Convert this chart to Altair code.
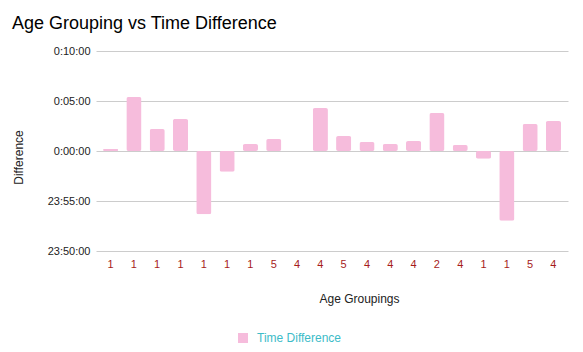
import altair as alt
import pandas as pd

# Age grouping label for each bar (in order)
age_groups = ["1", "1", "1", "1", "1", "1", "1", "5", "4", "4",
              "5", "4", "4", "4", "2", "4", "1", "1", "5", "4"]
# Time difference in seconds (negative = before midnight, shown as 23:xx:xx)
diff_seconds = [12, 324, 132, 192, -380, -124, 42, 72, 0, 258,
                90, 54, 42, 60, 228, 36, -46, -418, 162, 180]

y_ticks = [-600, -300, 0, 300, 600]
y_tick_labels = ["23:50:00", "23:55:00", "0:00:00", "0:05:00", "0:10:00"]

df = pd.DataFrame({
    "idx": list(range(len(age_groups))),
    "age": age_groups,
    "diff": diff_seconds,
    "series": ["Time Difference"] * len(age_groups),
})

x_label_expr = "[" + ",".join(f"'{a}'" for a in age_groups) + "][datum.value]"
y_label_expr = "".join(
    f"datum.value == {v} ? '{l}' : " for v, l in zip(y_ticks, y_tick_labels)
) + "''"

FONT = "Liberation Sans"

chart = alt.Chart(df).mark_bar(cornerRadius=2).encode(
    x=alt.X(
        "idx:O",
        scale=alt.Scale(paddingInner=0.35, paddingOuter=0.3),
        axis=alt.Axis(
            title="Age Groupings",
            labelExpr=x_label_expr,
            labelAngle=0,
            labelColor="#a61b1b",
            labelFontSize=11,
            labelFont=FONT,
            labelPadding=7,
            domain=False,
            ticks=False,
            titleFont=FONT,
            titleFontSize=12,
            titleFontWeight="normal",
            titleColor="#222222",
            titleX=263,
            titleY=47,
            titleBaseline="middle",
            titleAnchor="middle",
        ),
    ),
    y=alt.Y(
        "diff:Q",
        scale=alt.Scale(domain=[-600, 600], nice=False),
        axis=alt.Axis(
            title="Difference",
            values=y_ticks,
            labelExpr=y_label_expr,
            labelColor="#222222",
            labelFontSize=11,
            labelFont=FONT,
            labelPadding=6,
            domain=False,
            ticks=False,
            grid=True,
            gridColor="#cccccc",
            titleFont=FONT,
            titleFontSize=12,
            titleFontWeight="normal",
            titleColor="#222222",
            titleX=-78,
            titleY=106,
            titleAngle=-90,
            titleBaseline="middle",
            titleAnchor="middle",
        ),
    ),
    color=alt.Color(
        "series:N",
        scale=alt.Scale(range=["#f6bcdc"]),
        legend=alt.Legend(
            title=None,
            orient="none",
            legendX=141,
            legendY=281,
            symbolType="square",
            symbolSize=100,
            symbolStrokeWidth=0,
            symbolOpacity=1,
            labelColor="#3dbcc8",
            labelFontSize=12,
            labelFont=FONT,
            labelOffset=8,
        ),
    ),
).properties(
    width=472,
    height=200,
    background="white",
    title=alt.Title(
        "Age Grouping vs Time Difference",
        anchor="start",
        frame="group",
        font=FONT,
        fontSize=18,
        fontWeight="normal",
        color="#000000",
        dx=-84,
        offset=12,
    ),
    autosize=alt.AutoSizeParams(type="none"),
    padding={"left": 96, "top": 51, "right": 15, "bottom": 101},
).configure_view(stroke=None)

chart.save("out.html", embed_options={"renderer": "svg", "actions": False})
